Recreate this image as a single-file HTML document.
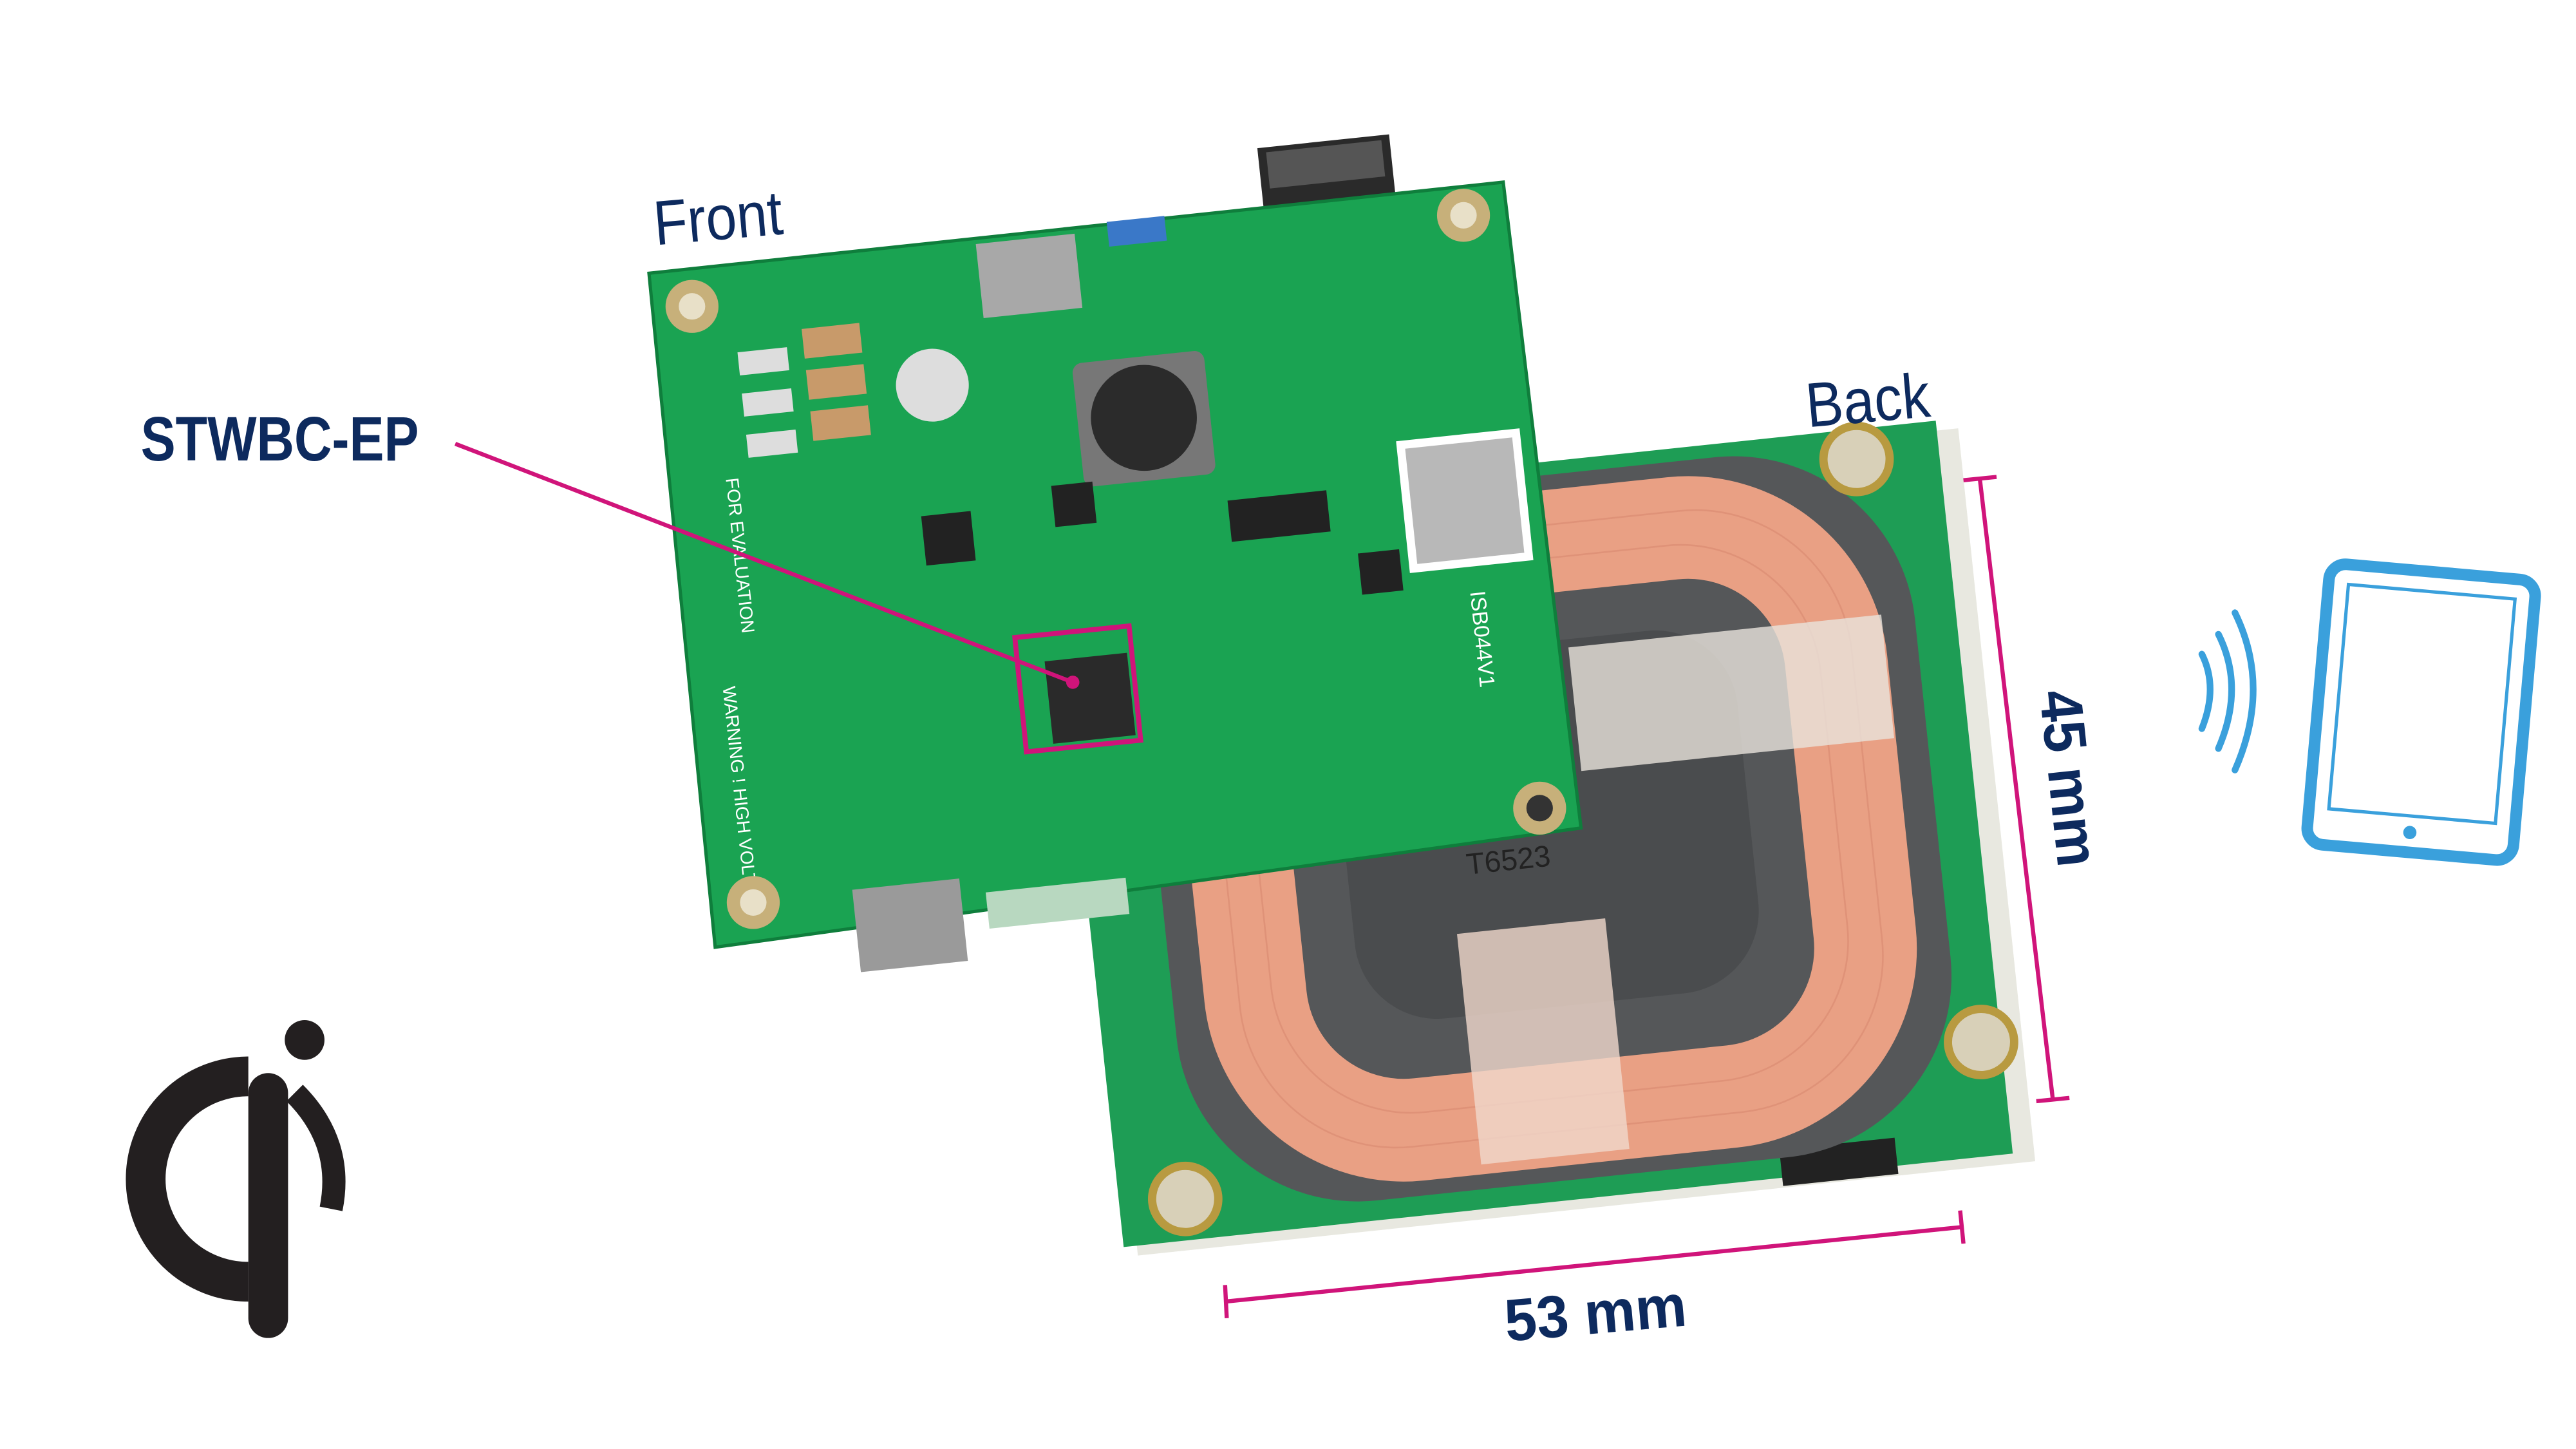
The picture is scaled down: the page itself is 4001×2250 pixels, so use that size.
<!DOCTYPE html>
<html><head><meta charset="utf-8"><style>
html,body{margin:0;padding:0;background:#fff}
svg{display:block}
text{font-family:"Liberation Sans",sans-serif}
</style></head><body>
<svg width="4001" height="2250" viewBox="0 0 1556 875" xmlns="http://www.w3.org/2000/svg">
<rect width="1556" height="875" fill="#fff"/>
<!-- Back board -->
<g transform="translate(-6,-12) rotate(-6 940 515)">
  <rect x="668" y="298" width="545" height="445" fill="#e8e8e0"/>
  <rect x="660" y="292" width="540" height="445" fill="#1e9d55"/>
  <rect x="1060" y="720" width="70" height="22" fill="#222"/>
  <rect x="705" y="300" width="470" height="425" rx="110" fill="#555759"/>
  <rect x="755" y="340" width="370" height="345" rx="90" fill="none" stroke="#e9a084" stroke-width="62"/>
  <rect x="745" y="330" width="390" height="365" rx="95" fill="none" stroke="#d98870" stroke-width="1" opacity=".6"/>
  <rect x="765" y="350" width="350" height="325" rx="85" fill="none" stroke="#d98870" stroke-width="1" opacity=".6"/>
  <rect x="818" y="400" width="245" height="220" rx="50" fill="#4a4c4e"/>
  <text x="890" y="535" font-size="18" fill="#222">T6523</text>
  <rect x="965" y="405" width="190" height="75" fill="#e8e4dc" opacity=".8"/>
  <rect x="880" y="570" width="90" height="140" fill="#f0d8cc" opacity=".8"/>
  <circle cx="1150" cy="310" r="20" fill="#d8d0b8" stroke="#b89a40" stroke-width="5"/>
  <circle cx="1188" cy="668" r="20" fill="#d8d0b8" stroke="#b89a40" stroke-width="5"/>
  <circle cx="700" cy="712" r="20" fill="#d8d0b8" stroke="#b89a40" stroke-width="5"/>
</g>
<!-- DC jack -->
<g transform="rotate(-6 805 140)">
  <rect x="765" y="85" width="80" height="110" fill="#2a2a2a"/>
  <rect x="770" y="88" width="70" height="22" fill="#555"/>
</g>
<!-- Front board -->
<polygon points="392,165 908,110 955,500 432,572" fill="#1aa352"/>
<polygon points="392,165 908,110 955,500 432,572" fill="none" stroke="#0f7e3c" stroke-width="2"/>
<g transform="rotate(-6 670 340)">
  <rect x="610" y="140" width="60" height="45" fill="#a8a8a8"/>
  <rect x="690" y="135" width="35" height="15" fill="#3a78c8"/>
  <rect x="660" y="218" width="80" height="75" rx="6" fill="#777"/>
  <circle cx="700" cy="255" r="32" fill="#2b2b2b"/>
  <circle cx="575" cy="222" r="22" fill="#ddd"/>
  <rect x="745" y="310" width="60" height="25" fill="#222"/>
  <rect x="850" y="285" width="75" height="80" fill="#fff"/>
  <rect x="855" y="290" width="65" height="70" fill="#888" opacity=".6"/>
  <rect x="500" y="180" width="35" height="18" fill="#c89a6a"/>
  <rect x="500" y="205" width="35" height="18" fill="#c89a6a"/>
  <rect x="500" y="230" width="35" height="18" fill="#c89a6a"/>
  <rect x="460" y="190" width="30" height="14" fill="#ddd"/>
  <rect x="460" y="215" width="30" height="14" fill="#ddd"/>
  <rect x="460" y="240" width="30" height="14" fill="#ddd"/>
  <rect x="495" y="520" width="65" height="50" fill="#9a9a9a"/>
  <rect x="575" y="530" width="85" height="22" fill="#b8d8c0"/>
  <rect x="625" y="395" width="50" height="50" fill="#2a2a2a"/>
  <rect x="560" y="300" width="30" height="30" fill="#222"/>
  <rect x="640" y="290" width="25" height="25" fill="#222"/>
  <rect x="820" y="350" width="25" height="25" fill="#222"/>
  <text x="445" y="265" font-size="11" fill="#fff" transform="rotate(90 445 265)">FOR EVALUATION</text>
  <text x="430" y="390" font-size="11" fill="#fff" transform="rotate(90 430 390)">WARNING ! HIGH VOLTAGE</text>
  <text x="885" y="380" font-size="13" fill="#fff" transform="rotate(90 885 380)">ISB044V1</text>
</g>
<circle cx="418" cy="185" r="16" fill="#c7b07a"/><circle cx="418" cy="185" r="8" fill="#e8e0c8"/>
<circle cx="884" cy="130" r="16" fill="#c7b07a"/><circle cx="884" cy="130" r="8" fill="#e8e0c8"/>
<circle cx="930" cy="488" r="16" fill="#c7b07a"/><circle cx="930" cy="488" r="8" fill="#333"/>
<circle cx="455" cy="545" r="16" fill="#c7b07a"/><circle cx="455" cy="545" r="8" fill="#e8e0c8"/>
<!-- chip marker -->
<polygon points="613,385 682,378 689,447 620,454" fill="none" stroke="#d0147a" stroke-width="3"/>
<line x1="275" y1="268" x2="648" y2="412" stroke="#d0147a" stroke-width="2.5"/>
<circle cx="648" cy="412" r="4" fill="#d0147a"/>
<!-- dimension lines -->
<line x1="1196" y1="290" x2="1240" y2="664" stroke="#d0147a" stroke-width="2.5"/>
<line x1="1186" y1="290" x2="1206" y2="288" stroke="#d0147a" stroke-width="2.5"/>
<line x1="1230" y1="665" x2="1250" y2="663" stroke="#d0147a" stroke-width="2.5"/>
<line x1="740" y1="786" x2="1185" y2="741" stroke="#d0147a" stroke-width="2.5"/>
<line x1="740" y1="776" x2="741" y2="796" stroke="#d0147a" stroke-width="2.5"/>
<line x1="1184" y1="731" x2="1186" y2="751" stroke="#d0147a" stroke-width="2.5"/>
<!-- labels -->
<text x="396" y="148" font-size="38" fill="#0d2a5e" textLength="78" lengthAdjust="spacingAndGlyphs" transform="rotate(-5 396 148)">Front</text>
<text x="1092" y="258" font-size="38" fill="#0d2a5e" textLength="75" lengthAdjust="spacingAndGlyphs" transform="rotate(-5 1092 258)">Back</text>
<text x="85" y="278" font-size="38" fill="#0d2a5e" font-weight="bold" textLength="168" lengthAdjust="spacingAndGlyphs">STWBC-EP</text>
<text x="1232" y="418" font-size="36" fill="#0d2a5e" font-weight="bold" textLength="107" lengthAdjust="spacingAndGlyphs" transform="rotate(84 1232 418)">45 mm</text>
<text x="910" y="810" font-size="36" fill="#0d2a5e" font-weight="bold" textLength="110" lengthAdjust="spacingAndGlyphs" transform="rotate(-5 910 810)">53 mm</text>
<!-- tablet -->
<g transform="rotate(5 1462 430)">
  <rect x="1400" y="345" width="125" height="170" rx="10" fill="none" stroke="#3aa0dc" stroke-width="7"/>
  <rect x="1412" y="357" width="101" height="136" fill="none" stroke="#3aa0dc" stroke-width="2"/>
  <circle cx="1462" cy="503" r="4" fill="#3aa0dc"/>
</g>
<g fill="none" stroke="#3aa0dc" stroke-width="4" stroke-linecap="round">
  <path d="M1330 395 Q1340 415 1330 440"/>
  <path d="M1340 383 Q1356 415 1340 452"/>
  <path d="M1350 370 Q1372 415 1350 465"/>
</g>
<!-- qi logo -->
<circle cx="184" cy="628" r="12" fill="#231f20"/>
<path d="M150 650 A62 62 0 1 0 150 774" fill="none" stroke="#231f20" stroke-width="24"/>
<rect x="150" y="648" width="24" height="160" rx="12" fill="#231f20"/>
<path d="M178 660 Q208 690 200 730" fill="none" stroke="#231f20" stroke-width="14"/>
</svg>
</body></html>
